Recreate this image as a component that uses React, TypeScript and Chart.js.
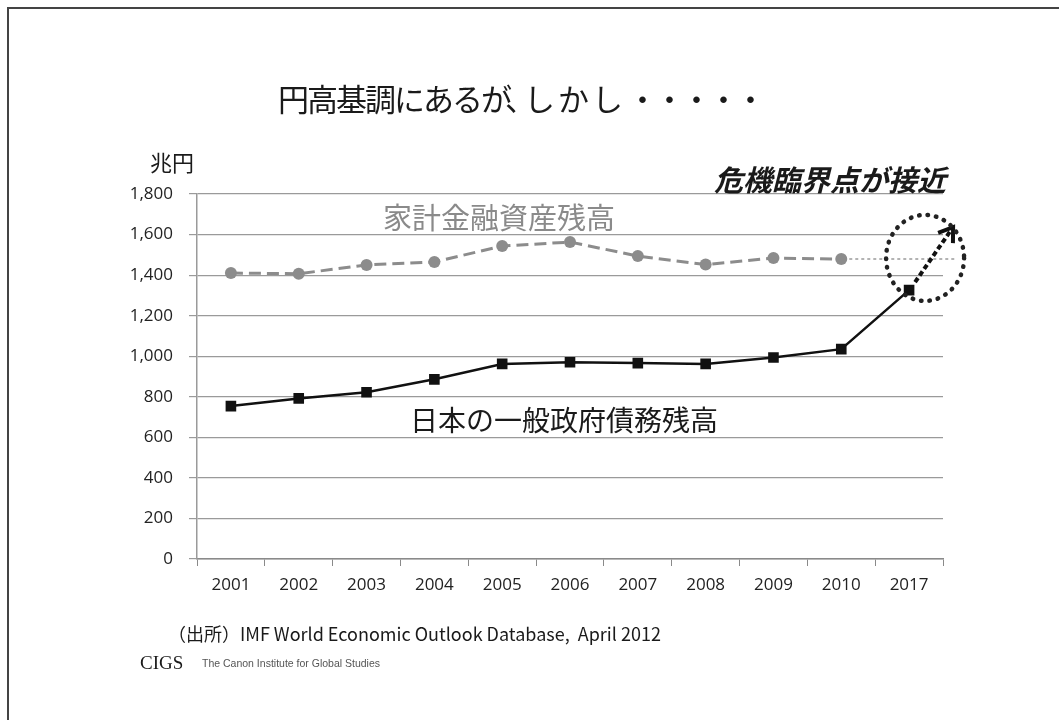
import React, { useEffect, useRef } from "react";
import { Chart, registerables } from "chart.js";

Chart.register(...registerables);

const categories = ["2001", "2002", "2003", "2004", "2005", "2006", "2007", "2008", "2009", "2010", "2017"];
const householdAssets = [1410, 1407, 1450, 1465, 1543, 1563, 1494, 1452, 1484, 1479, null];
const governmentDebt = [754, 792, 822, 886, 962, 970, 966, 962, 994, 1035, 1326];
const yTicks = [0, 200, 400, 600, 800, 1000, 1200, 1400, 1600, 1800];

const titleParts = ["円高基調にあるが", "、", "しかし", "・・・・・"];
const unitText = "兆円";
const warnText = "危機臨界点が接近";
const assetsLabel = "家計金融資産残高";
const debtLabel = "日本の一般政府債務残高";
const sourceText = "（出所）IMF World Economic Outlook Database,  April 2012";
const logoText = "CIGS";
const logoSub = "The Canon Institute for Global Studies";

const JP = '"Noto Sans CJK JP", "Noto Sans", sans-serif';

const decorPlugin = {
  id: "decor",
  beforeDraw(chart: any) {
    const ctx = chart.ctx;
    ctx.save();
    ctx.fillStyle = "#ffffff";
    ctx.fillRect(0, 0, chart.width, chart.height);
    ctx.strokeStyle = "#444";
    ctx.lineWidth = 2;
    ctx.beginPath();
    ctx.moveTo(8, chart.height);
    ctx.lineTo(8, 8);
    ctx.lineTo(chart.width, 8);
    ctx.stroke();
    ctx.restore();
  },
  afterDraw(chart: any) {
    const ctx = chart.ctx;
    const xs = chart.scales.x;
    const ys = chart.scales.y;
    ctx.save();
    // Title (drawn in pieces to mimic proportional spacing)
    ctx.fillStyle = "#1a1a1a";
    ctx.textBaseline = "middle";
    ctx.textAlign = "left";
    ctx.font = `31px ${JP}`;
    (ctx as any).letterSpacing = "-2px";
    ctx.fillText(titleParts[0], 278, 99);
    (ctx as any).letterSpacing = "0px";
    ctx.fillText(titleParts[1], 505, 99);
    (ctx as any).letterSpacing = "3px";
    ctx.fillText(titleParts[2], 524, 99);
    (ctx as any).letterSpacing = "-4px";
    ctx.fillText(titleParts[3], 627, 99);
    (ctx as any).letterSpacing = "0px";
    // unit
    ctx.font = `22px ${JP}`;
    ctx.fillText(unitText, 150, 163);
    // warning
    ctx.font = `italic bold 29px ${JP}`;
    ctx.fillText(warnText, 714, 180);
    // series labels
    ctx.textAlign = "center";
    ctx.fillStyle = "#8a8a8a";
    ctx.font = `29px ${JP}`;
    ctx.fillText(assetsLabel, 499, 218);
    ctx.fillStyle = "#1a1a1a";
    ctx.font = `28px ${JP}`;
    ctx.fillText(debtLabel, 564, 420);
    // footer
    ctx.textAlign = "left";
    ctx.font = `18px ${JP}`;
    ctx.fillText(sourceText, 168, 634);
    ctx.font = `19px "Liberation Serif", serif`;
    ctx.fillText(logoText, 140, 664);
    ctx.font = `10.5px "Liberation Sans", sans-serif`;
    ctx.fillStyle = "#555";
    ctx.fillText(logoSub, 202, 664);

    // dotted extension of household line
    const i10 = 9;
    const x10 = xs.getPixelForValue(i10);
    const y10 = ys.getPixelForValue(householdAssets[i10] as number);
    ctx.strokeStyle = "#9a9a9a";
    ctx.lineWidth = 1.5;
    ctx.setLineDash([3, 3]);
    ctx.beginPath();
    ctx.moveTo(x10 + 8, y10);
    ctx.lineTo(xs.right + 14, y10);
    ctx.stroke();

    // dotted arrow from last debt point
    const i17 = 10;
    const x17 = xs.getPixelForValue(i17);
    const y17 = ys.getPixelForValue(governmentDebt[i17]);
    const ex = x17 + 44;
    const ey = y17 - 63;
    ctx.strokeStyle = "#111";
    ctx.lineWidth = 4;
    ctx.setLineDash([5, 3]);
    ctx.beginPath();
    ctx.moveTo(x17 + 6, y17 - 8);
    ctx.lineTo(ex, ey);
    ctx.stroke();
    ctx.setLineDash([]);
    const ang = Math.atan2(ey - y17, ex - x17);
    ctx.lineWidth = 4;
    ctx.beginPath();
    ctx.moveTo(ex - 16 * Math.cos(ang - 0.6), ey - 16 * Math.sin(ang - 0.6));
    ctx.lineTo(ex, ey);
    ctx.lineTo(ex - 16 * Math.cos(ang + 0.6), ey - 16 * Math.sin(ang + 0.6));
    ctx.stroke();

    // dotted ellipse
    const cx = x17 + 16;
    const cy = ys.getPixelForValue(1480) - 1;
    ctx.strokeStyle = "#222";
    ctx.setLineDash([0.5, 8]);
    ctx.lineCap = "round";
    ctx.lineWidth = 4.5;
    ctx.beginPath();
    ctx.ellipse(cx, cy, 39, 43, 0, 0, Math.PI * 2);
    ctx.stroke();
    ctx.restore();
  },
};

export default function App() {
  const ref = useRef<HTMLCanvasElement>(null);
  useEffect(() => {
    if (!ref.current) return;
    const chart = new Chart(ref.current, {
      type: "line",
      data: {
        labels: categories,
        datasets: [
          {
            label: assetsLabel,
            data: householdAssets,
            borderColor: "#8c8c8c",
            backgroundColor: "#8c8c8c",
            borderWidth: 3,
            borderDash: [12, 6],
            pointStyle: "circle",
            pointRadius: 6,
            pointBorderWidth: 0,
            spanGaps: false,
            tension: 0,
          },
          {
            label: debtLabel,
            data: governmentDebt,
            borderColor: "#111111",
            backgroundColor: "#111111",
            borderWidth: 2.5,
            pointStyle: "rect",
            pointRadius: 7.5,
            pointBorderWidth: 0,
            tension: 0,
          },
        ],
      },
      options: {
        responsive: false,
        animation: false,
        layout: { padding: { left: 100, right: 116, top: 194, bottom: 120 } },
        plugins: { legend: { display: false }, tooltip: { enabled: false } },
        scales: {
          x: {
            offset: true,
            afterFit: (s: any) => { s.height = 41; },
            grid: {
              offset: true,
              drawOnChartArea: false,
              drawTicks: true,
              tickLength: 7,
              color: "#8a8a8a",
            },
            border: { display: true, color: "#8a8a8a", width: 1.5 },
            ticks: {
              color: "#222",
              font: { family: '"Open Sans", sans-serif', size: 17 },
              padding: 9,
              maxRotation: 0,
            },
          },
          y: {
            min: 0,
            max: 1800,
            afterFit: (s: any) => { s.width = 97; },
            afterBuildTicks: (s: any) => { s.ticks = yTicks.map((v) => ({ value: v })); },
            grid: { color: "#9a9a9a", lineWidth: 1.2, tickLength: 8 },
            border: { display: true, color: "#9a9a9a", width: 1.5 },
            ticks: {
              color: "#222",
              font: { family: '"Open Sans", sans-serif', size: 17 },
              padding: 16,
              callback: (v: any) => Number(v).toLocaleString("en-US"),
            },
          },
        },
      },
      plugins: [decorPlugin],
    });
    return () => chart.destroy();
  }, []);
  return (
    <div style={{ position: "absolute", left: 0, top: 0, width: 1059, height: 720 }}>
      <canvas ref={ref} width={1059} height={720} style={{ display: "block" }} />
    </div>
  );
}
